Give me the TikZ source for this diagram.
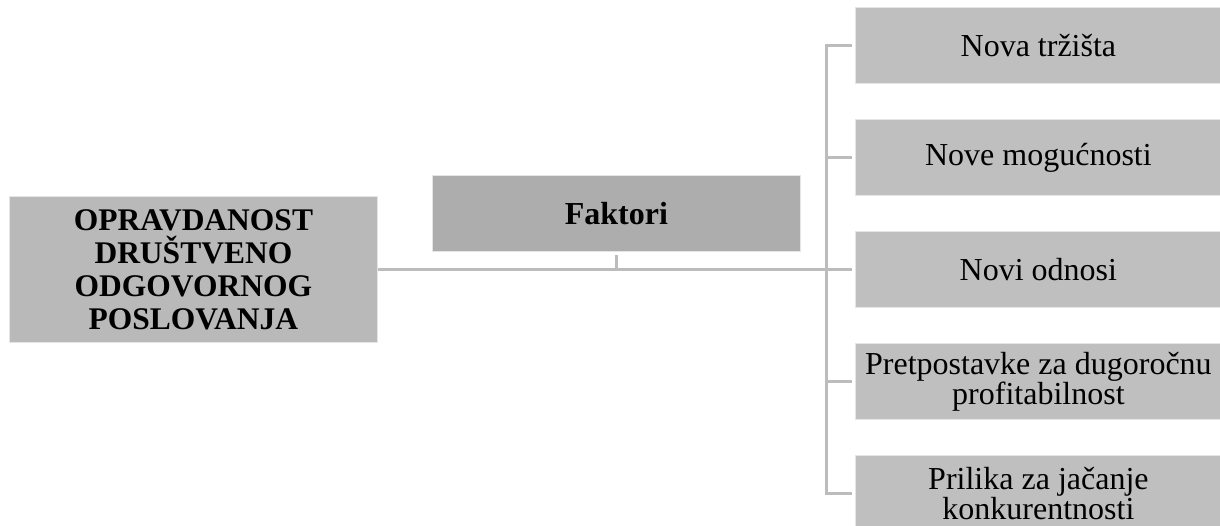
\documentclass[tikz,border=0pt]{standalone}
\usepackage{fontspec}
\setmainfont{Liberation Serif}
\definecolor{linegray}{HTML}{BCBCBC}
\definecolor{mainfill}{HTML}{B9B9B9}
\definecolor{fakfill}{HTML}{ADADAD}
\definecolor{itemfill}{HTML}{BFBFBF}
\begin{document}
\begin{tikzpicture}[x=1pt,y=-1pt,
  box/.style={draw=white!90!black, line width=0.8pt, inner sep=0pt, align=center, anchor=north west},
  item/.style={box, fill=itemfill, minimum width=366pt, minimum height=76pt, font=\fontsize{32}{30}\selectfont},
  conn/.style={draw=linegray, line width=3pt}]
\useasboundingbox (0,0) rectangle (1220,526);
\node[box, fill=mainfill, minimum width=368pt, minimum height=146pt, font=\fontsize{31.5}{33}\selectfont\bfseries] (main) at (9,196)
  {OPRAVDANOST\\DRUŠTVENO\\ODGOVORNOG\\POSLOVANJA};
\node[box, fill=fakfill, minimum width=368pt, minimum height=76pt, font=\fontsize{32}{34}\selectfont\bfseries] (fak) at (432,175) {Faktori};
\node[item] (b1) at (855,7) {Nova tržišta};
\node[item] (b2) at (855,119) {Nove mogućnosti};
\node[item] (b3) at (855,231) {Novi odnosi};
\node[item] (b4) at (855,343) {Pretpostavke za dugoročnu\\profitabilnost};
\node[item] (b5) at (855,455) {Prilika za jačanje\\konkurentnosti};
\coordinate (vx) at (826,269);
\draw[conn] (main.east) -- ([xshift=-3pt]b3.west);
\draw[conn, shorten <=3pt] (fak.south) -- (fak.south |- main.east);
\draw[conn] ([xshift=-3pt]b1.west) -- (b1.west -| vx) -- (b5.west -| vx) -- ([xshift=-3pt]b5.west);
\draw[conn] (b2.west -| vx) -- ([xshift=-3pt]b2.west);
\draw[conn] (b4.west -| vx) -- ([xshift=-3pt]b4.west);
\end{tikzpicture}
\end{document}
